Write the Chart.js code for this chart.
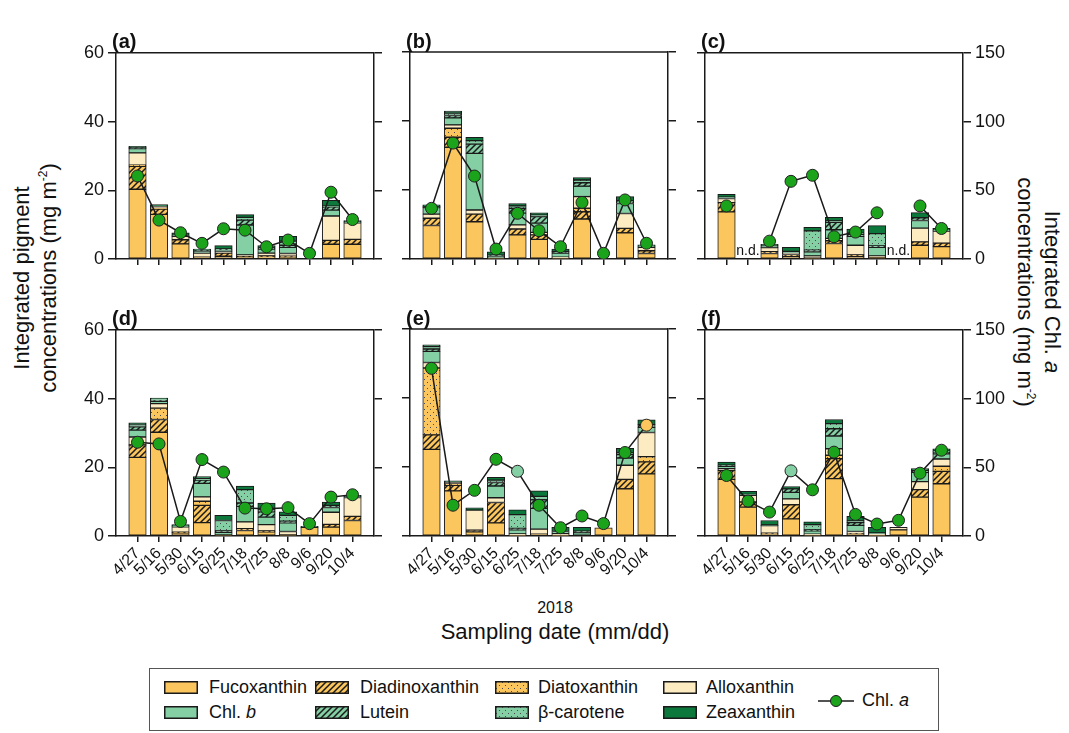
<!DOCTYPE html>
<html>
<head>
<meta charset="utf-8">
<script src="https://cdn.jsdelivr.net/npm/chart.js@4.4.0/dist/chart.umd.min.js"></script>
<style>
body{margin:0;background:#fff;width:1069px;height:733px;position:relative;overflow:hidden;font-family:'Liberation Sans',Arial,sans-serif;color:#111}
canvas.panel{position:absolute}
.lbl{position:absolute;font-weight:bold;font-size:20px}
.txt{position:absolute;white-space:nowrap}
.rot{position:absolute;white-space:nowrap;text-align:center;font-size:22px;line-height:27px}
sup{font-size:12px;line-height:0;vertical-align:9px}
#legend{position:absolute;left:149px;top:668px;width:790px;height:63px;border:1px solid #555;box-sizing:border-box}
#legend .sw{position:absolute}
#legend .t{position:absolute;font-size:18px;line-height:20px;white-space:nowrap}
</style>
</head>
<body>
<div class="rot" style="left:35px;top:278px;transform:translate(-50%,-50%) rotate(-90deg)">Integrated pigment<br>concentrations (mg m<sup>-2</sup>)</div>
<div class="rot" style="left:1039px;top:292px;transform:translate(-50%,-50%) rotate(90deg)">Integrated Chl. <i>a</i><br>concentrations (mg m<sup>-2</sup>)</div>
<div class="txt" style="left:555px;top:608px;transform:translate(-50%,-50%);font-size:16px">2018</div>
<div class="txt" style="left:555px;top:632px;transform:translate(-50%,-50%);font-size:22px">Sampling date (mm/dd)</div>
<div id="legend"></div>
<script>
const DATES = ['4/27', '5/16', '5/30', '6/15', '6/25', '7/18', '7/25', '8/8', '9/6', '9/20', '10/4'];
const PANELS = ['(a)', '(b)', '(c)', '(d)', '(e)', '(f)'];
const PIGMENTS = ['Fucoxanthin', 'Diadinoxanthin', 'Diatoxanthin', 'Alloxanthin', 'Chl. b', 'Lutein', 'β-carotene', 'Zeaxanthin'];

// rows = panels a..f, columns = sampling dates; null = n.d.
const FUCO = [
    [20.3, 13.0, 4.4, 0.5, 0.8, 0.5, 0.6, 0.4, 0, 4.3, 4.3],
    [9.7, 32.4, 10.8, 0.3, 7.0, 5.7, 0.3, 11.6, 0, 7.6, 1.6],
    [13.7, null, 1.6, 0.8, 0.3, 4.5, 0.8, 0.4, null, 4.0, 3.6],
    [22.9, 30.2, 0.9, 3.9, 0.3, 1.6, 1.2, 0.3, 2.5, 2.6, 4.5],
    [25.1, 13.1, 1.2, 3.8, 0.2, 0.5, 0.2, 0, 2.4, 13.7, 18.0],
    [16.5, 8.4, 0.5, 5.0, 0.3, 16.7, 0.5, 0.2, 1.8, 11.3, 15.2]
];
const DIADINO = [
    [6.7, 1.5, 1.2, 0, 0.9, 0.2, 0.3, 0.4, 0, 1.1, 1.4],
    [2.1, 2.9, 2.2, 0, 1.7, 1.3, 0, 2.1, 0, 1.3, 0.8],
    [2.7, null, 0.5, 0.5, 0, 0.8, 0.4, 0, null, 1.0, 1.0],
    [3.4, 3.7, 0.2, 5.0, 0, 0.5, 0.3, 0, 0, 0.8, 1.2],
    [4.2, 1.6, 0.5, 5.9, 0, 0, 0, 0, 0, 2.7, 3.5],
    [2.6, 1.5, 0.3, 4.1, 0, 5.8, 0.3, 0, 0, 2.2, 3.6]
];
const DIATO = [
    [0.3, 0.3, 0, 0, 0, 0, 0, 0, 0, 0, 0],
    [0, 2.6, 0, 0, 0, 0, 0, 1.0, 0, 0, 0],
    [0, null, 0, 0, 0, 0, 0, 0, null, 0, 0],
    [0.3, 3.3, 0, 1.2, 0, 0, 0, 0, 0, 0, 0],
    [19.4, 0.4, 0, 0, 0, 0, 0, 0, 0, 0, 1.5],
    [0, 0, 0, 0, 0, 1.0, 0, 0, 0, 0, 1.5]
];
const ALLO = [
    [3.6, 0.6, 1.0, 1.2, 0.4, 0.5, 0.8, 0.8, 0, 7.1, 4.8],
    [1.2, 1.0, 1.2, 0, 1.2, 0.7, 0.2, 3.4, 0, 4.3, 1.0],
    [1.2, null, 1.2, 0.4, 0.6, 0.7, 2.8, 0.5, null, 4.0, 3.5],
    [2.2, 1.3, 1.6, 1.3, 0, 2.0, 1.8, 1.0, 0, 3.5, 5.5],
    [1.6, 0.5, 5.8, 1.4, 0.4, 1.5, 0.6, 0, 0, 4.1, 7.0],
    [0.5, 1.9, 2.2, 1.7, 0.2, 1.9, 0.5, 0.4, 0.7, 2.3, 2.1]
];
const CHL_B = [
    [1.2, 0, 0.3, 0.6, 0.5, 8.7, 1.2, 1.8, 0, 1.7, 0.3],
    [1.9, 2.0, 16.4, 0.5, 3.4, 2.7, 1.2, 3.0, 0, 2.9, 0.3],
    [0.4, null, 0.5, 0.5, 1.2, 2.5, 2.6, 2.5, null, 2.2, 0.3],
    [2.0, 0.7, 0.2, 3.9, 0.8, 4.5, 2.2, 2.5, 0, 1.4, 0.2],
    [3.2, 0, 0, 3.4, 1.2, 6.0, 0.5, 1.0, 0, 2.1, 1.5],
    [0.7, 0.3, 0.2, 1.9, 1.0, 3.7, 1.8, 0.3, 0, 2.7, 1.5]
];
const LUTEIN = [
    [0.3, 0, 0, 0.2, 0.3, 1.4, 0.3, 0.6, 0, 1.0, 0],
    [0.3, 0.7, 2.7, 0.3, 1.4, 1.9, 0.5, 1.0, 0, 0.8, 0],
    [0, null, 0, 0, 0.5, 2.2, 0.6, 0.4, null, 0.8, 0],
    [1.0, 0.3, 0, 1.0, 0.4, 1.0, 1.5, 0.5, 0, 0.6, 0],
    [0.7, 0, 0, 1.0, 0.4, 2.5, 0, 0.4, 0, 1.0, 0.8],
    [0.3, 0, 0, 1.0, 0.3, 2.1, 0.8, 0, 0, 0.5, 0.5]
];
const BETA = [
    [0, 0, 0, 0, 0, 0.8, 0, 1.2, 0, 0.2, 0],
    [0, 0.7, 1.0, 0, 0.7, 0.4, 0, 0.8, 0, 0, 0],
    [0, null, 0, 0, 5.6, 0.4, 0.3, 3.6, null, 0, 0],
    [0.5, 0.4, 0, 0.4, 3.0, 3.9, 0.6, 1.7, 0, 0, 0],
    [0.7, 0, 0, 0.7, 4.0, 1.0, 0, 0, 0, 0.5, 0],
    [0, 0, 0, 0, 1.5, 1.5, 0.5, 0, 0, 0, 0.3]
];
const ZEA = [
    [0.4, 0.4, 0.7, 0.4, 1.0, 0.8, 0.7, 1.4, 0, 1.7, 0.4],
    [0.5, 0.6, 1.0, 1.0, 0.7, 0.7, 0.7, 0.7, 0, 1.2, 0.4],
    [0.8, null, 0.5, 1.2, 1.0, 1.0, 1.2, 2.3, null, 1.5, 0.5],
    [0.6, 0.2, 0.4, 0.6, 1.5, 1.0, 2.0, 1.0, 0.3, 1.0, 0.4],
    [0.5, 0.4, 0.7, 0.8, 1.4, 1.6, 1.2, 1.1, 0, 1.3, 1.4],
    [0.9, 0.9, 1.3, 0.7, 0.8, 1.2, 1.3, 1.6, 0, 0.6, 0.7]
];
const CHL_A = [
    [60.4, 28.3, 19.1, 11.4, 22.0, 21.0, 8.9, 13.8, 4.1, 48.6, 28.7],
    [36.7, 84.0, 60.1, 7.2, 33.1, 20.5, 8.9, 41.0, 4.1, 42.8, 11.4],
    [38.6, null, 13.0, 56.5, 60.9, 16.2, 19.6, 33.6, null, 38.6, 22.2],
    [68.2, 67.0, 10.6, 55.6, 46.5, 20.3, 19.8, 20.6, 9.0, 28.3, 30.0],
    [121.5, 22.3, 33.1, 55.6, 46.9, 22.3, 6.0, 14.5, 9.0, 60.5, 80.3],
    [44.0, 25.4, 17.4, 47.4, 33.6, 61.0, 15.7, 8.7, 11.4, 45.7, 62.4]
];
const LAYERS = [FUCO, DIADINO, DIATO, ALLO, CHL_B, LUTEIN, BETA, ZEA];

const ORANGE = '#fcc65e';
const CREAM = '#fdecc2';
const LGREEN = '#85cfa4';
const DGREEN = '#0c783b';
const DOT_GREEN = '#1ba31b';
const LINE = '#1a1a1a';
const STYLES = [
    [ORANGE, null], [ORANGE, 'hatch'], [ORANGE, 'dots'], [CREAM, null],
    [LGREEN, null], [LGREEN, 'hatch'], [LGREEN, 'dots'], [DGREEN, null]
];
// a few markers are drawn in a different colour in the original figure
const MARKER_COLORS = {'4-4': LGREEN, '4-10': ORANGE, '5-3': LGREEN};

const COL_LEFT = [116, 410, 705];
const ROW_TOP = [52, 329];
const PW = 258, PH = 207;
const L = 44, R = 48, T = 14, B = 70;

Chart.defaults.font.family = "'Liberation Sans', Arial, sans-serif";
Chart.defaults.color = '#111';

function makeFill(bg, pat){
    if(!pat) return bg;
    const c = document.createElement('canvas');
    c.width = 6;
    c.height = 6;
    const x = c.getContext('2d');
    x.fillStyle = bg;
    x.fillRect(0, 0, 6, 6);
    if(pat == 'hatch'){
        x.strokeStyle = '#1a1a1a';
        x.lineWidth = 1.5;
        x.beginPath();
        x.moveTo(-1, 7); x.lineTo(7, -1);
        x.moveTo(-1, 1); x.lineTo(1, -1);
        x.moveTo(5, 7); x.lineTo(7, 5);
        x.stroke();
    }else{
        x.fillStyle = '#4a4a4a';
        x.fillRect(1, 1, 1, 1);
        x.fillRect(4, 4, 1, 1);
    }
    return x.createPattern(c, 'repeat');
}
const FILLS = STYLES.map(s => makeFill(s[0], s[1]));

const framePlugin = {
    id: 'frame',
    afterDatasetsDraw(chart){
        const a = chart.chartArea;
        const ctx = chart.ctx;
        ctx.save();
        ctx.strokeStyle = LINE;
        ctx.lineWidth = 1.5;
        ctx.beginPath();
        ctx.moveTo(a.left, a.top);
        ctx.lineTo(a.right, a.top);
        ctx.stroke();
        // n.d. = no data at that date
        const p = chart.options.panelIndex;
        ctx.fillStyle = '#111';
        ctx.font = "14px 'Liberation Sans', Arial, sans-serif";
        ctx.textAlign = 'center';
        ctx.textBaseline = 'middle';
        CHL_A[p].forEach((v, i) => {
            if(v === null && FUCO[p][i] === null){
                ctx.fillText('n.d.', chart.scales.x.getPixelForValue(i), chart.scales.y.getPixelForValue(0) - 8);
            }
        });
        ctx.restore();
    }
};

function chartPanel(p){
    const col = p % 3;
    const row = Math.floor(p / 3);
    const canvas = document.createElement('canvas');
    canvas.className = 'panel';
    canvas.width = PW + L + R;
    canvas.height = PH + T + B;
    canvas.style.left = (COL_LEFT[col] - L) + 'px';
    canvas.style.top = (ROW_TOP[row] - T) + 'px';
    document.body.appendChild(canvas);

    const lbl = document.createElement('div');
    lbl.className = 'lbl';
    lbl.textContent = PANELS[p];
    lbl.style.left = (COL_LEFT[col] - 4) + 'px';
    lbl.style.top = (ROW_TOP[row] - 22) + 'px';
    document.body.appendChild(lbl);

    const datasets = [];
    LAYERS.forEach((rows, k) => {
        datasets.push({
            type: 'bar',
            label: PIGMENTS[k],
            order: 1,
            yAxisID: 'y',
            data: rows[p].map((v, i) => ({x: i, y: v ? v : null})),
            backgroundColor: FILLS[k],
            borderColor: LINE,
            borderWidth: 1,
            borderSkipped: false,
            barThickness: 17.5
        });
    });
    datasets.push({
        type: 'line',
        label: 'Chl. a',
        order: 0,
        yAxisID: 'y2',
        data: CHL_A[p].map((v, i) => ({x: i, y: v})),
        borderColor: LINE,
        borderWidth: 1.5,
        spanGaps: false,
        pointRadius: 6,
        pointBorderWidth: 1,
        pointBorderColor: '#222',
        pointBackgroundColor: CHL_A[p].map((v, i) => MARKER_COLORS[p + '-' + i] || DOT_GREEN)
    });

    const axisGrid = {drawOnChartArea: false, tickLength: 8, lineWidth: 1.5, color: LINE};
    const axisBorder = {color: LINE, width: 1.5};
    new Chart(canvas.getContext('2d'), {
        data: {datasets: datasets},
        plugins: [framePlugin],
        options: {
            panelIndex: p,
            responsive: false,
            animation: false,
            layout: {padding: {top: T, left: 0, right: 0, bottom: 0}},
            plugins: {legend: {display: false}, tooltip: {enabled: false}},
            scales: {
                x: {
                    type: 'linear',
                    min: -1,
                    max: 11,
                    offset: false,
                    stacked: true,
                    afterBuildTicks: s => {
                        s.ticks = [];
                        for(let i = -1; i <= 11; i++) s.ticks.push({value: i});
                    },
                    ticks: {
                        display: row == 1,
                        autoSkip: false,
                        minRotation: 45,
                        maxRotation: 45,
                        padding: 2,
                        font: {size: 16},
                        callback: v => (v >= 0 && v <= 10) ? DATES[v] : ''
                    },
                    grid: {
                        offset: false,
                        drawOnChartArea: false,
                        tickLength: 6,
                        lineWidth: 1.5,
                        color: c => (c.tick && c.tick.value >= 0 && c.tick.value <= 10) ? LINE : 'rgba(0,0,0,0)'
                    },
                    border: axisBorder,
                    afterFit: s => { s.height = B; }
                },
                y: {
                    type: 'linear',
                    position: 'left',
                    min: 0,
                    max: 60,
                    stacked: true,
                    ticks: {display: col == 0, stepSize: 20, padding: 4, font: {size: 18}},
                    grid: axisGrid,
                    border: axisBorder,
                    afterFit: s => { s.width = L; }
                },
                y2: {
                    type: 'linear',
                    position: 'right',
                    min: 0,
                    max: 150,
                    ticks: {display: col == 2, stepSize: 50, padding: 4, font: {size: 18}},
                    grid: axisGrid,
                    border: axisBorder,
                    afterFit: s => { s.width = R; }
                }
            }
        }
    });
}

for(let p = 0; p < 6; p++){
    chartPanel(p);
}

// legend
const legend = document.getElementById('legend');
const SW_X = [14, 165, 345, 513];
const TX_X = [59, 210, 388, 556];
const ROW_Y = [19, 44];
PIGMENTS.forEach((name, k) => {
    const col = k % 4;
    const row = Math.floor(k / 4);
    const sw = document.createElement('canvas');
    sw.className = 'sw';
    sw.width = 34;
    sw.height = 13;
    sw.style.left = SW_X[col] + 'px';
    sw.style.top = (ROW_Y[row] - 7) + 'px';
    const x = sw.getContext('2d');
    x.fillStyle = FILLS[k];
    x.fillRect(0, 0, 34, 13);
    x.strokeStyle = LINE;
    x.lineWidth = 1.5;
    x.strokeRect(0.75, 0.75, 32.5, 11.5);
    legend.appendChild(sw);
    const t = document.createElement('div');
    t.className = 't';
    t.style.left = TX_X[col] + 'px';
    t.style.top = (ROW_Y[row] - 11) + 'px';
    t.innerHTML = name == 'Chl. b' ? 'Chl. <i>b</i>' : name;
    legend.appendChild(t);
});
const lc = document.createElement('canvas');
lc.className = 'sw';
lc.width = 38;
lc.height = 16;
lc.style.left = '667px';
lc.style.top = '24px';
const lx = lc.getContext('2d');
lx.strokeStyle = LINE;
lx.lineWidth = 1.5;
lx.beginPath();
lx.moveTo(1, 8); lx.lineTo(37, 8);
lx.stroke();
lx.beginPath();
lx.arc(19, 8, 5.5, 0, Math.PI * 2);
lx.fillStyle = DOT_GREEN;
lx.fill();
lx.lineWidth = 1;
lx.stroke();
legend.appendChild(lc);
const lt = document.createElement('div');
lt.className = 't';
lt.style.left = '712px';
lt.style.top = '21px';
lt.innerHTML = 'Chl. <i>a</i>';
legend.appendChild(lt);
</script>
</body>
</html>
